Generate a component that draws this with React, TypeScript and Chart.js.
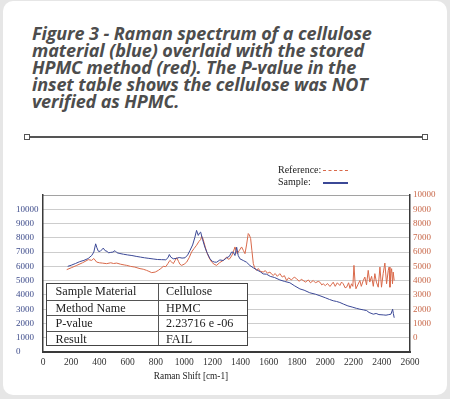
import React, { useEffect, useRef } from "react";
import { Chart, registerables } from "chart.js";

Chart.register(...registerables);

// ---- Data ----
const titleLines = [
  "Figure 3 - Raman spectrum of a cellulose",
  "material (blue) overlaid with the stored",
  "HPMC method (red). The P-value in the",
  "inset table shows the cellulose was NOT",
  "verified as HPMC.",
];

const xTitle = "Raman Shift [cm-1]";
const legendLabels = ["Reference:", "Sample:"];

const tableLabels = ["Sample Material", "Method Name", "P-value", "Result"];
const tableValues = ["Cellulose", "HPMC", "2.23716 e -06", "FAIL"];

const sampleShift = [
  175, 200, 230, 260, 290, 320, 345, 360, 373, 382, 392, 405, 415, 427, 440, 455, 463, 480, 495, 510,
  525, 545, 570, 600, 630, 660, 690, 720, 750, 780, 810, 840, 870, 885, 895, 905, 923, 945, 965, 985,
  1006, 1025, 1041, 1060, 1075, 1088, 1100, 1110, 1117, 1130, 1147, 1165, 1183, 1200, 1215, 1230, 1253,
  1277, 1301, 1320, 1336, 1348, 1360, 1372, 1383, 1395, 1419, 1442, 1466, 1490, 1513, 1540, 1560, 1584,
  1610, 1640, 1678, 1710, 1749, 1780, 1820, 1850, 1890, 1930, 1962, 2000, 2030, 2056, 2080, 2103, 2130,
  2160, 2190, 2220, 2245, 2270, 2293, 2310, 2340, 2360, 2380, 2410, 2430, 2450, 2465, 2477, 2482, 2488,
];
const sampleIntensity = [
  6000, 6080, 6200, 6330, 6420, 6550, 6760, 7000, 7580, 7300, 7060, 7050, 7150, 7280, 7100, 7050, 6950, 6980, 7000, 7100,
  6950, 6900, 6850, 6800, 6760, 6700, 6650, 6600, 6560, 6520, 6480, 6470, 6460, 6600, 6830, 6650, 6530, 6560, 6620, 6580,
  6600, 6800, 7110, 7500, 8000, 8520, 8170, 8350, 8400, 7900, 7340, 6900, 6530, 6350, 6300, 6290, 6450,
  6410, 6600, 6700, 7000, 6990, 6760, 7340, 6760, 6530, 6410, 6290, 6060, 5900, 5760, 5620, 5470, 5450,
  5300, 5220, 5050, 4950, 4850, 4650, 4420, 4330, 4150, 4050, 3940, 3800, 3680, 3590, 3540, 3470, 3350,
  3230, 3150, 3060, 3000, 2950, 2900, 2770, 2650, 2700, 2620, 2600, 2580, 2620, 2650, 3000, 2700, 2400,
];

const referenceShift = [
  168, 200, 239, 280, 321, 345, 360, 380, 400, 420, 451, 480, 500, 522, 550, 575, 593, 620, 650, 687,
  710, 734, 750, 770, 795, 817, 835, 852, 870, 885, 899, 912, 923, 935, 947, 960, 970, 982, 1000, 1018,
  1035, 1053, 1070, 1088, 1105, 1117, 1124, 1131, 1140, 1159, 1177, 1195, 1212, 1230, 1250, 1277, 1301,
  1312, 1324, 1340, 1348, 1360, 1368, 1376, 1390, 1407, 1420, 1431, 1442, 1454, 1462, 1471, 1480, 1490,
  1500, 1513, 1525, 1540, 1560, 1575, 1590, 1608, 1620, 1631, 1645, 1660, 1678, 1695, 1710, 1726, 1740,
  1760, 1780, 1797, 1815, 1830, 1843, 1860, 1880, 1895, 1914, 1930, 1950, 1962, 1975, 1985, 2000, 2015,
  2033, 2045, 2056, 2070, 2085, 2103, 2115, 2127, 2140, 2151, 2165, 2175, 2186, 2195, 2203, 2210, 2217,
  2230, 2245, 2255, 2269, 2280, 2292, 2304, 2315, 2328, 2340, 2351, 2362, 2375, 2387, 2398, 2410, 2422,
  2434, 2446, 2452, 2458, 2464, 2470, 2476, 2481, 2488,
];
const referenceIntensity = [
  4770, 4900, 5070, 5250, 5470, 5420, 5550, 5300, 5250, 5230, 5190, 5250, 5200, 5230, 5150, 5100, 5070, 5000, 4950, 4840,
  4800, 4720, 4650, 4560, 4600, 4720, 4850, 5000, 4980, 5200, 5420, 5300, 5190, 5400, 5610, 5350, 5150, 5070, 5150, 5300,
  5600, 6010, 6250, 6480, 6750, 6880, 7100, 7000, 6700, 6010, 5600, 5300, 5150, 5070, 5250, 5420, 5650,
  5500, 5540, 5800, 6010, 6360, 6100, 5890, 6100, 6360, 6100, 5890, 6500, 7300, 7200, 6950, 6100, 5190,
  4900, 4720, 4850, 4650, 4600, 4700, 4520, 4600, 4450, 4370, 4500, 4300, 4490, 4250, 4350, 4010, 4200,
  4050, 4250, 4130, 3950, 4100, 4010, 3900, 4050, 3850, 4010, 3850, 3950, 3890, 3700, 3780, 3650, 3800,
  3590, 3750, 3890, 3600, 3850, 3660, 3900, 3780, 3500, 3540, 3850, 3450, 3780, 3600, 5070, 4000, 3430,
  3700, 4010, 3600, 4010, 4250, 3700, 4720, 3900, 4300, 3600, 4490, 3900, 3540, 4950, 3540, 4500, 5230,
  3780, 4720, 4950, 3540, 4500, 4840, 3780, 4600, 4010,
];

// ---- Styles ----
const SAMPLE_COLOR = "#3b4896";
const REF_COLOR = "#d9694a";
const SERIF = "'Liberation Serif', 'Times New Roman', serif";

export default function App() {
  const canvasRef = useRef<HTMLCanvasElement | null>(null);

  useEffect(() => {
    const canvas = canvasRef.current;
    if (!canvas) return;
    const chart = new Chart(canvas, {
      type: "line",
      data: {
        datasets: [
          {
            label: "Sample",
            data: sampleShift.map((x, i) => ({ x, y: sampleIntensity[i] })),
            yAxisID: "yL",
            borderColor: SAMPLE_COLOR,
            borderWidth: 1,
            pointRadius: 0,
            tension: 0,
          },
          {
            label: "Reference",
            data: referenceShift.map((x, i) => ({ x, y: referenceIntensity[i] })),
            yAxisID: "yR",
            borderColor: REF_COLOR,
            borderWidth: 1,
            pointRadius: 0,
            tension: 0,
          },
        ],
      },
      options: {
        responsive: false,
        animation: false,
        layout: { padding: { left: 16, right: 0, top: 195, bottom: 0 } },
        plugins: { legend: { display: false }, tooltip: { enabled: false } },
        scales: {
          x: {
            type: "linear",
            min: 0,
            max: 2600,
            ticks: {
              stepSize: 200,
              padding: 5,
              maxRotation: 0,
              autoSkip: false,
              color: "#333",
              font: { family: SERIF, size: 9.5 },
              callback: (v: any) => String(v),
            },
            grid: { display: false, drawTicks: false },
            border: { display: true, color: "#3a3a3a", width: 2 },
            afterFit: (s: any) => {
              s.height = 47;
            },
          },
          yL: {
            type: "linear",
            position: "left",
            min: 0,
            max: 11000,
            ticks: {
              stepSize: 1000,
              crossAlign: "far",
              padding: 0,
              color: "#3f4d8c",
              font: { family: SERIF, size: 9 },
              callback: (v: any) => (Number(v) >= 11000 ? "" : String(v)),
            },
            grid: {
              drawTicks: false,
              color: (ctx: any) => (ctx.tick && ctx.tick.value === 11000 ? "#444" : "#9a9a9a"),
              lineWidth: 1,
            },
            border: { display: true, color: "#3a3a3a", width: 1.5, dash: [1, 1] },
            afterFit: (s: any) => {
              s.width = 27;
            },
          },
          yR: {
            type: "linear",
            position: "right",
            min: -1000,
            max: 10000,
            ticks: {
              stepSize: 1000,
              padding: 3,
              color: "#c8684a",
              font: { family: SERIF, size: 9 },
              callback: (v: any) => (Number(v) < 0 ? "" : String(v)),
            },
            grid: { drawOnChartArea: false, drawTicks: false },
            border: { display: true, color: "#3a3a3a", width: 1.5 },
            afterFit: (s: any) => {
              s.width = 40;
            },
          },
        },
      },
    });
    return () => chart.destroy();
  }, []);

  return (
    <div
      style={{
        position: "fixed",
        left: 0,
        top: 0,
        width: 450,
        height: 399,
        background: "#e6e6e6",
        overflow: "hidden",
      }}
    >
      <div
        style={{
          position: "absolute",
          left: 3,
          top: 1,
          width: 444,
          height: 394,
          background: "#ffffff",
          borderRadius: 10,
        }}
      />
      <div
        style={{
          position: "absolute",
          left: 32,
          top: 25,
          fontFamily: "'Open Sans', Lato, sans-serif",
          fontWeight: 700,
          fontStyle: "italic",
          fontSize: 18,
          lineHeight: "17.1px",
          letterSpacing: "-0.1px",
          color: "#4d4d4d",
          whiteSpace: "nowrap",
        }}
      >
        {titleLines.map((l, i) => (
          <div key={i}>{l}</div>
        ))}
      </div>
      {/* rule */}
      <div style={{ position: "absolute", left: 27, top: 136, width: 398, height: 2, background: "#555" }} />
      <div
        style={{
          position: "absolute",
          left: 24,
          top: 134,
          width: 4,
          height: 4,
          border: "1px solid #555",
          background: "#fff",
        }}
      />
      <div
        style={{
          position: "absolute",
          left: 422,
          top: 134,
          width: 4,
          height: 4,
          border: "1px solid #555",
          background: "#fff",
        }}
      />
      <canvas
        ref={canvasRef}
        width={450}
        height={399}
        style={{ position: "absolute", left: 0, top: 0, width: 450, height: 399 }}
      />
      {/* legend */}
      <div
        style={{
          position: "absolute",
          left: 278,
          top: 164,
          fontFamily: SERIF,
          fontSize: 10,
          lineHeight: "12px",
          color: "#222",
          whiteSpace: "nowrap",
        }}
      >
        <div>{legendLabels[0]}</div>
        <div>{legendLabels[1]}</div>
      </div>
      <div
        style={{
          position: "absolute",
          left: 323,
          top: 170,
          width: 25,
          height: 0,
          borderTop: `1px dashed ${REF_COLOR}`,
        }}
      />
      <div
        style={{
          position: "absolute",
          left: 323,
          top: 182,
          width: 25,
          height: 1.5,
          background: SAMPLE_COLOR,
        }}
      />
      {/* x axis title */}
      <div
        style={{
          position: "absolute",
          left: 141,
          width: 100,
          top: 370,
          textAlign: "center",
          fontFamily: SERIF,
          fontSize: 9.3,
          lineHeight: "12px",
          color: "#222",
          whiteSpace: "nowrap",
        }}
      >
        {xTitle}
      </div>
      {/* inset table */}
      <div
        style={{
          position: "absolute",
          left: 46,
          top: 283,
          width: 202,
          height: 63,
          boxSizing: "border-box",
          border: "1.5px solid #444",
          background: "#fff",
          fontFamily: SERIF,
          fontSize: 12.2,
          color: "#222",
        }}
      >
        {tableLabels.map((lab, i) => (
          <div
            key={i}
            style={{
              position: "absolute",
              left: 0,
              top: i * 15.5,
              width: "100%",
              height: 15.5,
              borderTop: i === 0 ? "none" : "1px solid #555",
              boxSizing: "border-box",
              lineHeight: "15px",
            }}
          >
            <span style={{ position: "absolute", left: 8.5, top: 0 }}>{lab}</span>
            <span style={{ position: "absolute", left: 119, top: 0 }}>{tableValues[i]}</span>
          </div>
        ))}
        <div
          style={{
            position: "absolute",
            left: 110.5,
            top: 0,
            width: 1,
            height: "100%",
            background: "#555",
          }}
        />
      </div>
    </div>
  );
}
